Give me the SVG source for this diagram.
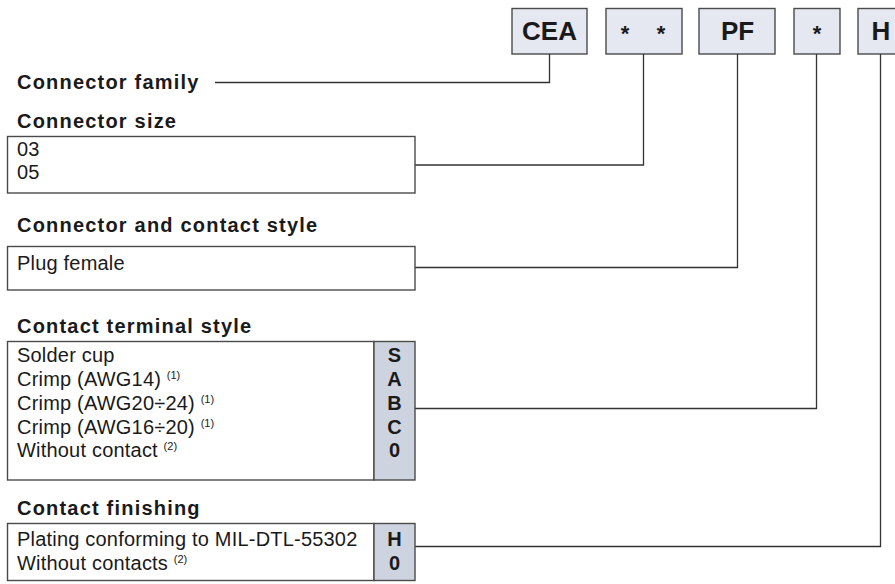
<svg xmlns="http://www.w3.org/2000/svg" width="895" height="584" viewBox="0 0 895 584">
<style>
.bg{fill:#ffffff}
.code{fill:#e5e8f0;stroke:#4a4a4a;stroke-width:1.4}
.box{fill:#ffffff;stroke:#4a4a4a;stroke-width:1.4}
.col{fill:#cdd4df;stroke:#4a4a4a;stroke-width:1.4}
.conn{fill:none;stroke:#333333;stroke-width:1.3}
.h{font-family:"Liberation Sans",Arial,sans-serif;font-weight:bold;font-size:20px;fill:#1a1a1a;letter-spacing:1.2px}
.t{font-family:"Liberation Sans",Arial,sans-serif;font-size:20px;fill:#1a1a1a;letter-spacing:0.2px}
.sup{font-size:11px;letter-spacing:0}
.big{font-family:"Liberation Sans",Arial,sans-serif;font-weight:bold;font-size:26px;fill:#1a1a1a;text-anchor:middle}
.star{font-family:"Liberation Sans",Arial,sans-serif;font-weight:bold;font-size:22px;fill:#1a1a1a;text-anchor:middle}
.c{font-family:"Liberation Sans",Arial,sans-serif;font-weight:bold;font-size:20px;fill:#1a1a1a;text-anchor:middle}
</style>
<rect class="bg" x="0" y="0" width="895" height="584"/>

<g id="code-CEA"><rect class="code" x="512" y="8.5" width="75" height="45.5"/><text class="big" x="549.5" y="39.5">CEA</text></g>
<g id="code-size"><rect class="code" x="606" y="8.5" width="76" height="45.5"/><text class="star" x="625" y="41">*</text><text class="star" x="661" y="41">*</text></g>
<g id="code-PF"><rect class="code" x="699" y="8.5" width="76" height="45.5"/><text class="big" x="737.5" y="39.5">PF</text></g>
<g id="code-term"><rect class="code" x="794" y="8.5" width="46" height="45.5"/><text class="star" x="817" y="41">*</text></g>
<g id="code-H"><rect class="code" x="858" y="8.5" width="46" height="45.5"/><text class="big" x="881" y="39.5">H</text></g>

<g id="connectors">
<path class="conn" d="M549.5 54 V82.5 H215"/>
<path class="conn" d="M643.5 54 V165 H415"/>
<path class="conn" d="M737.5 54 V267.5 H415"/>
<path class="conn" d="M816.5 54 V408.5 H415"/>
<path class="conn" d="M880.5 54 V546.5 H415"/>
</g>

<g id="family"><text class="h" x="17" y="89">Connector family</text></g>

<g id="size">
<text class="h" x="17" y="128">Connector size</text>
<rect class="box" x="7.5" y="136.5" width="407.5" height="56.5"/>
<text class="t" x="17" y="155.5">03</text>
<text class="t" x="17" y="178.5">05</text>
</g>

<g id="style">
<text class="h" x="17" y="232">Connector and contact style</text>
<rect class="box" x="7.5" y="246.5" width="407.5" height="43.5"/>
<text class="t" x="17" y="269.5">Plug female</text>
</g>

<g id="terminal">
<text class="h" x="17" y="333">Contact terminal style</text>
<rect class="box" x="7.5" y="341.5" width="366.5" height="138.5"/>
<rect class="col" x="374" y="341.5" width="41" height="138.5"/>
<text class="t" x="17" y="361.5">Solder cup</text>
<text class="t" x="17" y="385.5">Crimp (AWG14) <tspan class="sup" dy="-7">(1)</tspan></text>
<text class="t" x="17" y="409.5">Crimp (AWG20÷24) <tspan class="sup" dy="-7">(1)</tspan></text>
<text class="t" x="17" y="433.5">Crimp (AWG16÷20) <tspan class="sup" dy="-7">(1)</tspan></text>
<text class="t" x="17" y="457">Without contact <tspan class="sup" dy="-7">(2)</tspan></text>
<text class="c" x="394.5" y="361.5">S</text>
<text class="c" x="394.5" y="385.5">A</text>
<text class="c" x="394.5" y="409.5">B</text>
<text class="c" x="394.5" y="433.5">C</text>
<text class="c" x="394.5" y="457">0</text>
</g>

<g id="finishing">
<text class="h" x="17" y="515">Contact finishing</text>
<rect class="box" x="7.5" y="523.5" width="366.5" height="57"/>
<rect class="col" x="374" y="523.5" width="41" height="57"/>
<text class="t" x="17" y="545.5">Plating conforming to MIL-DTL-55302</text>
<text class="t" x="17" y="569.5">Without contacts <tspan class="sup" dy="-7">(2)</tspan></text>
<text class="c" x="394.5" y="545.5">H</text>
<text class="c" x="394.5" y="569.5">0</text>
</g>
</svg>
